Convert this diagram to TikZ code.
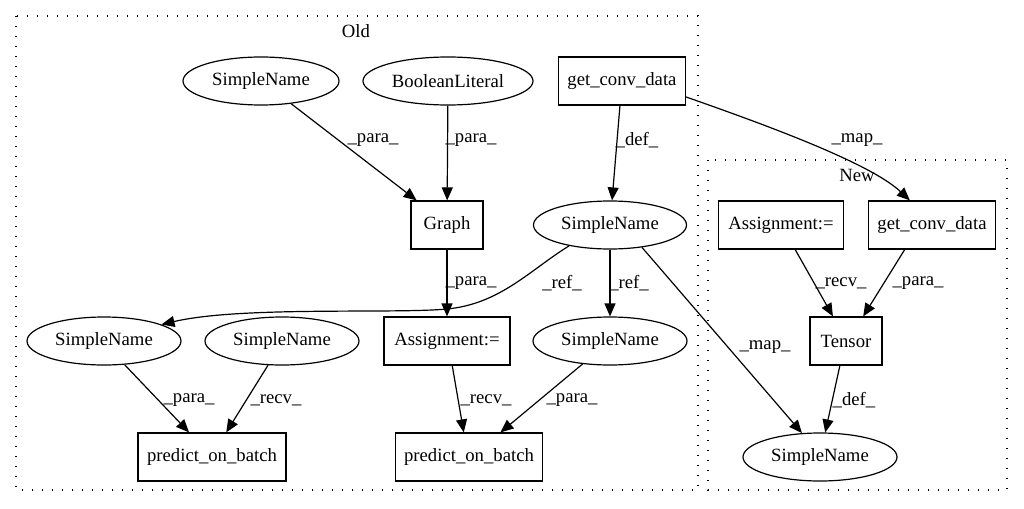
\documentclass[tikz,border=0pt]{standalone}
\usepackage{fontspec}
\setmainfont{Liberation Serif}
\usetikzlibrary{shapes.geometric,arrows.meta}
\begin{document}
\begin{tikzpicture}[x=1pt,y=-1pt,
  every node/.style={font=\fontsize{18.7}{22}\selectfont},
  ell/.style={draw,ellipse,inner sep=0pt,minimum height=48pt,line width=1.2pt},
  box/.style={draw,rectangle,inner sep=0pt,minimum height=48pt,line width=1.2pt},
  edge/.style={draw,line width=1.2pt,-{Triangle[length=13pt,width=11pt]}},
  lab/.style={inner sep=0pt},
  cluster/.style={draw,line width=1.3pt,dash pattern=on 1.3pt off 8.7pt}]
\useasboundingbox (0,0) rectangle (1024,508);
\draw[cluster] (16,16) rectangle (698,490);
\draw[cluster] (708,160) rectangle (1007,490);
\node[lab] (oldlab) at (356,31) {Old};
\node[lab] (newlab) at (857,175) {New};
% nodes
\node[ell,minimum width=156pt] (sn1) at (261,81) {SimpleName};
\node[ell,minimum width=170pt] (bool) at (448,81) {BooleanLiteral};
\node[box,minimum width=127pt] (gcdO) at (622,81) {get\_conv\_data};
\node[box,minimum width=72pt] (graph) at (447,225) {Graph};
\node[ell,minimum width=153pt] (snM) at (610,225) {SimpleName};
\node[box,minimum width=125pt] (asgN) at (781,225) {Assignment:=};
\node[box,minimum width=127pt] (gcdN) at (932,225) {get\_conv\_data};
\node[ell,minimum width=154pt] (snA) at (104,341) {SimpleName};
\node[ell,minimum width=154pt] (snB) at (282,341) {SimpleName};
\node[box,minimum width=126pt] (asgO) at (447,341) {Assignment:=};
\node[ell,minimum width=154pt] (snC) at (610,341) {SimpleName};
\node[box,minimum width=72pt] (tensor) at (846,341) {Tensor};
\node[box,minimum width=148pt] (pob1) at (212,457) {predict\_on\_batch};
\node[box,minimum width=147pt] (pob2) at (469,457) {predict\_on\_batch};
\node[ell,minimum width=154pt] (snN) at (820,457) {SimpleName};
% edges
\draw[edge] (sn1.-37) -- (graph.141);
\draw[edge] (bool) -- (graph);
\draw[edge] (gcdO) -- (snM);
\draw[edge] (gcdO.-14) .. controls (766,125) and (870,163) .. (gcdN.132);
\draw[edge] (graph) -- (asgO);
\draw[edge] (snM.-153) .. controls (530,270) and (500,304) .. (447,309) .. controls (394,314) and (240,306) .. (snA.16);
\draw[edge] (snM) -- (snC);
\draw[edge] (snM.-35) -- (snN.127);
\draw[edge] (snA.-49) -- (pob1.133);
\draw[edge] (snB.-120) -- (pob1.60);
\draw[edge] (asgO.-78) -- (pob2.102);
\draw[edge] (snC.-140) -- (pob2.38);
\draw[edge] (asgN.-60) -- (tensor.118);
\draw[edge] (gcdN.-138) -- (tensor.55);
\draw[edge] (tensor.-104) -- (snN.78);
% edge labels
\node[lab] (l1) at (373,140) {\_para\_};
\node[lab] (l2) at (471,140) {\_para\_};
\node[lab] (l3) at (637,140) {\_def\_};
\node[lab] (l4) at (857,140) {\_map\_};
\node[lab] (l5) at (471,283) {\_para\_};
\node[lab] (l6) at (562,283) {\_ref\_};
\node[lab] (l7) at (629,283) {\_ref\_};
\node[lab] (l8) at (765,347) {\_map\_};
\node[lab] (l9) at (189,400) {\_para\_};
\node[lab] (l10) at (276,400) {\_recv\_};
\node[lab] (l11) at (486,400) {\_recv\_};
\node[lab] (l12) at (572,400) {\_para\_};
\node[lab] (l13) at (841,283) {\_recv\_};
\node[lab] (l14) at (918,283) {\_para\_};
\node[lab] (l15) at (854,400) {\_def\_};
\end{tikzpicture}
\end{document}
